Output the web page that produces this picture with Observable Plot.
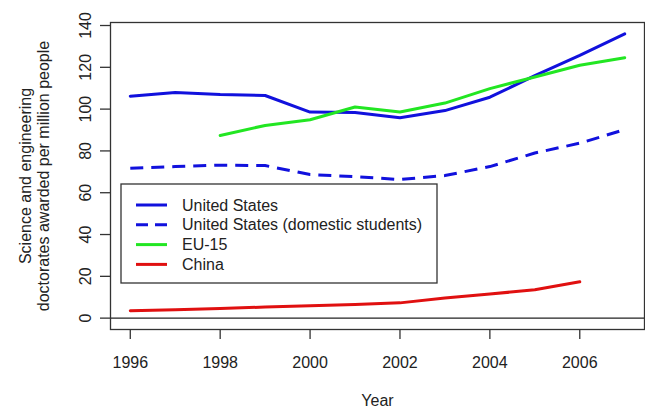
<!DOCTYPE html>
<html>
<head>
<meta charset="utf-8">
<script src="https://cdn.jsdelivr.net/npm/d3@7"></script>
<script src="https://cdn.jsdelivr.net/npm/@observablehq/plot@0.6"></script>
<style>
  html, body { margin: 0; padding: 0; background: #fff; }
  svg { display: block; }
</style>
</head>
<body>
<div id="chart"></div>
<script>
// Science and engineering doctorates awarded per million people, by year
const years = [1996, 1997, 1998, 1999, 2000, 2001, 2002, 2003, 2004, 2005, 2006, 2007];
const unitedStates = [106.2, 108.0, 107.0, 106.5, 98.6, 98.4, 95.9, 99.3, 105.7, 116.0, 125.7, 136.0];
const unitedStatesDomestic = [71.7, 72.5, 73.2, 73.0, 68.7, 67.7, 66.3, 68.2, 72.5, 79.0, 83.7, 90.2];
const eu15 = [null, null, 87.4, 92.2, 94.9, 101.0, 98.6, 102.9, 109.8, 115.4, 121.0, 124.6];
const china = [3.5, 4.0, 4.6, 5.3, 5.9, 6.5, 7.3, 9.6, 11.5, 13.6, 17.4, null];

const seriesNames = ["United States", "United States (domestic students)", "EU-15", "China"];
const seriesValues = [unitedStates, unitedStatesDomestic, eu15, china];
const seriesColors = ["#1111dd", "#1111dd", "#22e622", "#e01010"];
const seriesDashes = [null, "13,8", null, null];

const xTicks = [1996, 1998, 2000, 2002, 2004, 2006];
const yTicks = [0, 20, 40, 60, 80, 100, 120, 140];

const xLabel = "Year";
const yLabel = "Science and engineering\ndoctorates awarded per million people";

// long-format rows, skipping missing years
const rows = [];
seriesValues.forEach((vals, s) => vals.forEach((v, i) => {
  if (v != null) rows.push({series: seriesNames[s], year: years[i], value: v});
}));

const M = {top: 22, right: 1, bottom: 80, left: 110};
const W = 645, H = 409;
const FONT = "'Liberation Sans', Arial, Helvetica, sans-serif";

const lineMarks = seriesNames.map((name, s) =>
  Plot.line(rows.filter(d => d.series === name), {
    x: "year",
    y: "value",
    stroke: seriesColors[s],
    strokeWidth: 3,
    strokeDasharray: seriesDashes[s] ?? undefined,
    strokeLinecap: seriesDashes[s] ? "butt" : "round",
    strokeLinejoin: "round"
  })
);

const svg = Plot.plot({
  width: W,
  height: H,
  marginTop: M.top,
  marginRight: M.right,
  marginBottom: M.bottom,
  marginLeft: M.left,
  style: {fontFamily: FONT, fontSize: "16px", color: "#222", background: "#fff"},
  x: {type: "linear", domain: [1995.56, 2007.44], nice: false},
  y: {type: "linear", domain: [-5.44, 141.44], nice: false},
  marks: [
    Plot.ruleY([0], {stroke: "#222", strokeWidth: 1.2}),
    ...lineMarks,
    Plot.frame({stroke: "#333", strokeWidth: 1.3}),
    Plot.axisX(xTicks, {
      tickSize: 10, tickPadding: 17, fontSize: 16, label: null,
      tickFormat: d => String(d), stroke: "#333", strokeWidth: 1.3
    }),
    Plot.axisY(yTicks, {
      tickSize: 10, tickPadding: 10, tickRotate: -90, fontSize: 16, label: null,
      tickFormat: d => String(d), stroke: "#333", strokeWidth: 1.3
    }),
    Plot.text([xLabel], {
      frameAnchor: "bottom", dy: 71, text: d => d, fontSize: 16,
      textAnchor: "middle", lineAnchor: "middle", fill: "#222"
    }),
    Plot.text([yLabel], {
      frameAnchor: "left", dx: -76, rotate: -90, text: d => d, fontSize: 16,
      lineHeight: 1.13, textAnchor: "middle", lineAnchor: "middle", fill: "#222"
    })
  ]
});

// legend box drawn in the upper-left quadrant of the plotting area
const legend = d3.select(svg).append("g").attr("class", "legend")
  .attr("font-family", FONT)
  .attr("font-size", 16)
  .attr("text-anchor", "start");
const lx = M.left + 11, ly = M.top + 162, lw = 316, lh = 99;
legend.append("rect")
  .attr("x", lx).attr("y", ly).attr("width", lw).attr("height", lh)
  .attr("fill", "#fff").attr("stroke", "#333").attr("stroke-width", 1.3);
seriesNames.forEach((name, i) => {
  const ry = ly + 21 + i * 19.8;
  legend.append("line")
    .attr("x1", lx + 15).attr("x2", lx + 46).attr("y1", ry).attr("y2", ry)
    .attr("stroke", seriesColors[i]).attr("stroke-width", 3)
    .attr("stroke-dasharray", seriesDashes[i] ? "12,7" : null);
  legend.append("text")
    .attr("x", lx + 61).attr("y", ry).attr("dy", "0.35em")
    .attr("text-anchor", "start")
    .attr("fill", "#222").text(name);
});

document.getElementById("chart").appendChild(svg);
</script>
</body>
</html>
